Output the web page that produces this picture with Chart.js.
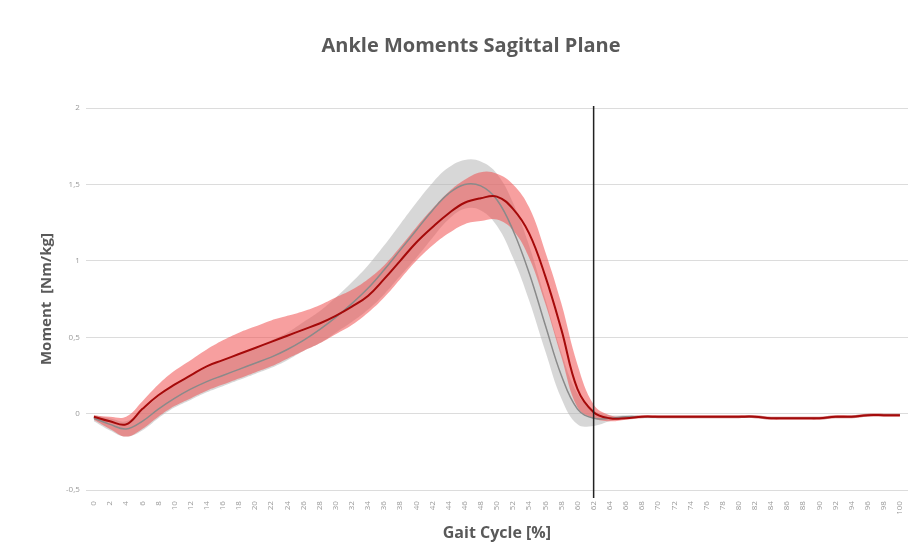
<!DOCTYPE html>
<html>
<head>
<meta charset="utf-8">
<script src="https://cdn.jsdelivr.net/npm/chart.js@4/dist/chart.umd.min.js"></script>
<style>
  html, body { margin: 0; padding: 0; background: #fff; }
  #wrap { width: 916px; height: 552px; }
</style>
</head>
<body>
<div id="wrap"><canvas id="myChart" width="916" height="552"></canvas></div>
<script>
// gait cycle %, every 2
var cycle = ["0","2","4","6","8","10","12","14","16","18","20","22","24","26","28","30","32","34","36","38","40","42","44","46","48","50","52","54","56","58","60","62","64","66","68","70","72","74","76","78","80","82","84","86","88","90","92","94","96","98","100"];

// patient group (red) mean and band
var redMean = [-0.02,-0.05,-0.07,0.03,0.12,0.19,0.25,0.31,0.35,0.39,0.43,0.47,0.51,0.55,0.59,0.64,0.70,0.77,0.88,1.00,1.12,1.22,1.31,1.38,1.41,1.42,1.34,1.18,0.90,0.55,0.16,0.01,-0.03,-0.03,-0.02,-0.02,-0.02,-0.02,-0.02,-0.02,-0.02,-0.02,-0.03,-0.03,-0.03,-0.03,-0.02,-0.02,-0.01,-0.01,-0.01];
var redUpper = [-0.01,-0.02,-0.02,0.08,0.19,0.28,0.35,0.42,0.48,0.53,0.57,0.61,0.64,0.67,0.71,0.76,0.81,0.88,0.97,1.09,1.22,1.34,1.45,1.53,1.58,1.57,1.50,1.35,1.06,0.72,0.32,0.06,-0.01,-0.02,-0.01,-0.01,-0.01,-0.01,-0.01,-0.01,-0.01,-0.01,-0.02,-0.02,-0.02,-0.02,-0.01,-0.01,0.00,0.00,0.00];
var redLower = [-0.04,-0.10,-0.15,-0.10,-0.02,0.05,0.10,0.15,0.19,0.23,0.27,0.31,0.36,0.41,0.46,0.52,0.58,0.66,0.76,0.88,1.00,1.10,1.18,1.24,1.26,1.27,1.20,1.02,0.72,0.37,0.04,-0.03,-0.05,-0.04,-0.03,-0.03,-0.03,-0.03,-0.03,-0.03,-0.03,-0.03,-0.04,-0.04,-0.04,-0.04,-0.03,-0.03,-0.02,-0.02,-0.02];

// normative group (grey) mean and band
var greyMean = [-0.03,-0.07,-0.10,-0.05,0.03,0.10,0.16,0.21,0.25,0.29,0.33,0.37,0.42,0.48,0.55,0.63,0.72,0.82,0.94,1.07,1.20,1.33,1.44,1.50,1.49,1.40,1.20,0.92,0.58,0.25,0.03,-0.03,-0.03,-0.02,-0.02,-0.02,-0.02,-0.02,-0.02,-0.02,-0.02,-0.02,-0.03,-0.03,-0.03,-0.03,-0.02,-0.02,-0.01,-0.01,-0.01];
var greyUpper = [-0.01,-0.03,-0.05,0.02,0.11,0.19,0.25,0.30,0.35,0.39,0.43,0.48,0.53,0.60,0.67,0.76,0.86,0.97,1.10,1.24,1.38,1.51,1.61,1.66,1.65,1.57,1.38,1.10,0.75,0.40,0.13,0.02,-0.01,-0.01,-0.01,-0.01,-0.01,-0.01,-0.01,-0.01,-0.01,-0.01,-0.02,-0.02,-0.02,-0.02,-0.01,-0.01,0.00,0.00,0.00];
var greyLower = [-0.05,-0.11,-0.15,-0.11,-0.03,0.04,0.09,0.14,0.18,0.22,0.26,0.30,0.35,0.41,0.46,0.53,0.60,0.68,0.78,0.90,1.02,1.15,1.27,1.34,1.33,1.23,1.02,0.74,0.41,0.10,-0.07,-0.08,-0.05,-0.03,-0.03,-0.03,-0.03,-0.03,-0.03,-0.03,-0.03,-0.03,-0.04,-0.04,-0.04,-0.04,-0.03,-0.03,-0.02,-0.02,-0.02];

var toeOff = "62";
var yTicks = [-0.5, 0, 0.5, 1, 1.5, 2];

var toeOffLine = {
  id: "toeOffLine",
  afterDatasetsDraw: function(chart) {
    var ctx = chart.ctx;
    var x = chart.scales.x.getPixelForValue(cycle.indexOf(toeOff));
    var yTop = chart.scales.y.getPixelForValue(2);
    ctx.save();
    ctx.strokeStyle = "#222";
    ctx.lineWidth = 1.5;
    ctx.beginPath();
    ctx.moveTo(x, yTop - 2);
    ctx.lineTo(x, chart.chartArea.bottom + 8);
    ctx.stroke();
    ctx.restore();
  }
};

Chart.defaults.font.family = "'Open Sans', sans-serif";

new Chart("myChart", {
  type: "line",
  data: {
    labels: cycle,
    datasets: [
      { data: greyUpper, borderWidth: 0, pointRadius: 0, fill: "+1", backgroundColor: "rgba(175,175,175,0.5)", order: 4, tension: 0.4 },
      { data: greyLower, borderWidth: 0, pointRadius: 0, fill: false, order: 4, tension: 0.4 },
      { data: redUpper, borderWidth: 0, pointRadius: 0, fill: "+1", backgroundColor: "rgba(240,80,80,0.55)", order: 3, tension: 0.4 },
      { data: redLower, borderWidth: 0, pointRadius: 0, fill: false, order: 3, tension: 0.4 },
      { data: greyMean, borderColor: "#8a8a8a", borderWidth: 1.5, pointRadius: 0, fill: false, order: 2, tension: 0.4 },
      { data: redMean, borderColor: "#a50a0a", borderWidth: 2, pointRadius: 0, fill: false, order: 1, tension: 0.4 }
    ]
  },
  options: {
    responsive: false,
    animation: false,
    layout: { padding: { left: 34, right: 8, top: 0, bottom: 5 } },
    plugins: {
      legend: { display: false },
      tooltip: { enabled: false },
      title: {
        display: true,
        text: "Ankle Moments Sagittal Plane",
        color: "#595959",
        font: { size: 20, weight: "bold" },
        padding: { top: 34, bottom: 50 }
      }
    },
    scales: {
      x: {
        offset: true,
        grid: { display: false },
        border: { display: false },
        ticks: { color: "#9a9a9a", font: { size: 8 }, minRotation: 90, maxRotation: 90, autoSkip: false },
        title: { display: true, text: "Gait Cycle [%]", color: "#595959", font: { size: 16, weight: "bold" }, padding: { top: 6 } }
      },
      y: {
        min: -0.5,
        max: 2,
        afterBuildTicks: function(axis) { axis.ticks = yTicks.map(function(v) { return { value: v }; }); },
        grid: { color: "#dcdcdc", drawTicks: false },
        border: { display: false },
        ticks: {
          color: "#9a9a9a", font: { size: 8 }, padding: 6,
          callback: function(v) { return String(v).replace(".", ","); }
        },
        title: { display: true, text: "Moment  [Nm/kg]", color: "#595959", font: { size: 15, weight: "bold" }, padding: { bottom: 4 } }
      }
    }
  },
  plugins: [toeOffLine]
});
</script>
</body>
</html>
